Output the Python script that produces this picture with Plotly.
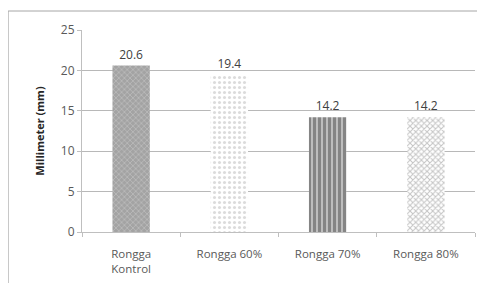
import plotly.graph_objects as go

categories = ["Rongga<br>Kontrol", "Rongga 60%", "Rongga 70%", "Rongga 80%"]
values = [20.6, 19.4, 14.2, 14.2]
value_labels = ["20.6", "19.4", "14.2", "14.2"]
y_ticks = [0, 5, 10, 15, 20, 25]

pat_shapes = ["x", ".", "|", "x"]
pat_fg = ["#d6d6d6", "#b8b8b8", "#2a2a2a", "#8a8a8a"]
pat_bg = ["#a3a3a3", "#ffffff", "#e0e0e0", "#ffffff"]
pat_size = [4, 5, 5, 4]
pat_solid = [0.35, 0.3, 0.75, 0.45]

font_fam = "Open Sans, Liberation Sans, sans-serif"

fig = go.Figure()
for i, cat in enumerate(categories):
    fig.add_trace(go.Bar(
        x=[cat], y=[values[i]],
        width=0.38,
        marker=dict(
            color=pat_bg[i],
            line=dict(width=0),
            pattern=dict(shape=pat_shapes[i], fgcolor=pat_fg[i], bgcolor=pat_bg[i],
                         size=pat_size[i], solidity=pat_solid[i]),
        ),
        text=[value_labels[i]], textposition="outside",
        textfont=dict(size=12, color="#404040", family=font_fam),
        cliponaxis=False,
    ))

fig.update_layout(
    width=485, height=283,
    margin=dict(l=74, r=18, t=22, b=59),
    paper_bgcolor="white", plot_bgcolor="white",
    showlegend=False,
    barmode="overlay",
    font=dict(family=font_fam, color="#595959"),
)
fig.update_xaxes(
    categoryorder="array", categoryarray=categories,
    showline=True, linecolor="#bfbfbf", linewidth=1,
    ticks="outside", tickcolor="#bfbfbf", ticklen=4,
    tickson="boundaries",
    ticklabelstandoff=11,
    tickfont=dict(size=11.5, color="#595959"),
    showgrid=False,
)
fig.update_yaxes(
    range=[0, 25], tickvals=y_ticks,
    showgrid=True, gridcolor="#b8b8b8", gridwidth=1,
    showline=True, linecolor="#bfbfbf", linewidth=1,
    ticks="outside", tickcolor="#bfbfbf", ticklen=4,
    tickfont=dict(size=12, color="#595959"),
    zeroline=False,
    title=dict(text="<b>Millimeter (mm)</b>", font=dict(size=11, color="#262626"), standoff=14),
)
fig.add_shape(type="rect", xref="paper", yref="paper",
              x0=-0.188, x1=1.2, y0=-0.6, y1=1.094,
              line=dict(color="#a6a6a6", width=1), fillcolor="rgba(0,0,0,0)",
              layer="above")
fig.write_html("out.html")
